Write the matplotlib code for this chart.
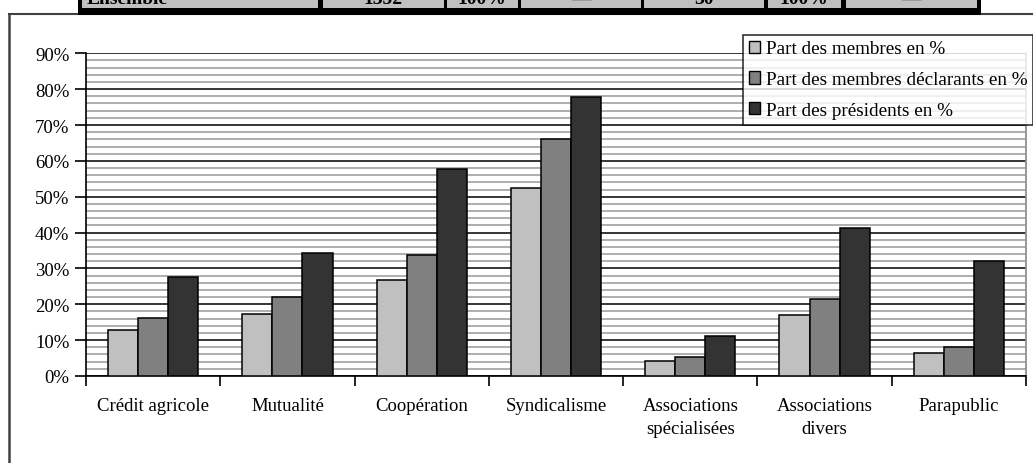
import matplotlib.pyplot as plt
import numpy as np
from matplotlib.patches import Rectangle
from matplotlib.lines import Line2D

plt.rcParams['font.family'] = ['Liberation Serif', 'DejaVu Serif']

# data
categories = ["Crédit agricole", "Mutualité", "Coopération", "Syndicalisme",
              "Associations\nspécialisées", "Associations\ndivers", "Parapublic"]
series_names = ["Part des membres en %",
                "Part des membres déclarants en %",
                "Part des présidents en %"]
membres = [12.7, 17.3, 26.8, 52.5, 4.2, 17.0, 6.5]
declarants = [16.2, 21.9, 33.7, 66.0, 5.2, 21.6, 8.0]
presidents = [27.5, 34.4, 57.8, 77.8, 11.1, 41.2, 32.1]
y_ticks = [0, 10, 20, 30, 40, 50, 60, 70, 80, 90]
table_row = ["Ensemble", "1352", "100%", "—", "30", "100%", "—"]

W, H = 1033, 464
fig = plt.figure(figsize=(W / 100, H / 100), dpi=100)

def fx(x):
    return x / W

def fy(y):
    return 1 - y / H

# cut-off table at the top
fig.add_artist(Rectangle((fx(78), fy(15.7)), fx(981) - fx(78), fy(0) - fy(15.7),
                         transform=fig.transFigure, facecolor='black', edgecolor='none'))
cells = [(81.5, 317.5), (322.5, 443.5), (446.5, 517.5), (520.5, 640.5),
         (643.5, 764.5), (767.5, 840.5), (845.5, 976.5)]
for (x0, x1), txt in zip(cells, table_row):
    fig.add_artist(Rectangle((fx(x0), fy(9)), fx(x1) - fx(x0), fy(0) - fy(9),
                             transform=fig.transFigure, facecolor='#c0c0c0', edgecolor='none'))
    if txt == "Ensemble":
        fig.text(fx(x0 + 5), fy(4), txt, ha='left', va='baseline', fontsize=14, fontweight='bold')
    elif txt == "—":
        fig.text(fx((x0 + x1) / 2), fy(5.6), txt, ha='center', va='baseline', fontsize=14,
                 color='#909090')
    else:
        fig.text(fx((x0 + x1) / 2), fy(4), txt, ha='center', va='baseline', fontsize=14,
                 fontweight='bold')

# outer frame
fig.add_artist(Line2D([fx(9), fx(W)], [fy(15), fy(15)], transform=fig.transFigure,
                      color='#404040', lw=1.5, zorder=0))
fig.add_artist(Line2D([fx(9), fx(9)], [fy(15), fy(H)], transform=fig.transFigure,
                      color='#404040', lw=1.8, zorder=0))

# axes
left, right, bottom, top = 86, 1026, 377, 54.3
ax = fig.add_axes([fx(left), fy(bottom), fx(right) - fx(left), fy(top) - fy(bottom)])

x = np.arange(len(categories))
w = 0.224
colors = ['#c0c0c0', '#808080', '#333333']
for i, (vals, c, name) in enumerate(zip([membres, declarants, presidents], colors, series_names)):
    ax.bar(x + (i - 1) * w, vals, width=w, color=c, edgecolor='black', linewidth=1.1,
           label=name, zorder=3)

ax.set_xlim(-0.5, len(categories) - 0.5)
ax.set_ylim(0, 90)
ax.set_yticks(y_ticks)
ax.set_yticklabels([f"{v}%" for v in y_ticks], fontsize=13.5)
ax.set_yticks(np.arange(0, 90, 2), minor=True)
ax.set_xticks(x)
ax.set_xticklabels(categories, fontsize=13.5, linespacing=1.45, va='top')
ax.set_xticks(np.arange(-0.5, len(categories), 1), minor=True)

ax.tick_params(axis='x', which='major', length=0, pad=15)
ax.tick_params(axis='x', which='minor', length=7, width=1.2, direction='out')
ax.tick_params(axis='y', which='major', length=8, width=1.2, direction='out', pad=4)
ax.tick_params(axis='y', which='minor', length=0)

ax.set_axisbelow(True)
ax.yaxis.grid(True, which='minor', color='#a8a8a8', lw=1.3)
ax.yaxis.grid(True, which='major', color='black', lw=1.1)
ax.xaxis.grid(False)

for s in ['left', 'bottom']:
    ax.spines[s].set_linewidth(1.2)
ax.spines['right'].set_color('#909090')
ax.spines['right'].set_linewidth(1.3)
ax.spines['top'].set_visible(False)

handles = [Rectangle((0, 0), 1, 1, facecolor=c, edgecolor='black', lw=1) for c in colors]
leg = fig.legend(handles, series_names, loc='upper left',
                 bbox_to_anchor=(fx(743), fy(35.7)), fontsize=13.8,
                 frameon=True, fancybox=False, shadow=False, borderpad=0.3,
                 handlelength=0.6, handleheight=0.6, handletextpad=0.3,
                 labelspacing=0.72, borderaxespad=0)
leg.get_frame().set_edgecolor('black')
leg.get_frame().set_linewidth(1.2)

fig.savefig("out.png", dpi=100)
